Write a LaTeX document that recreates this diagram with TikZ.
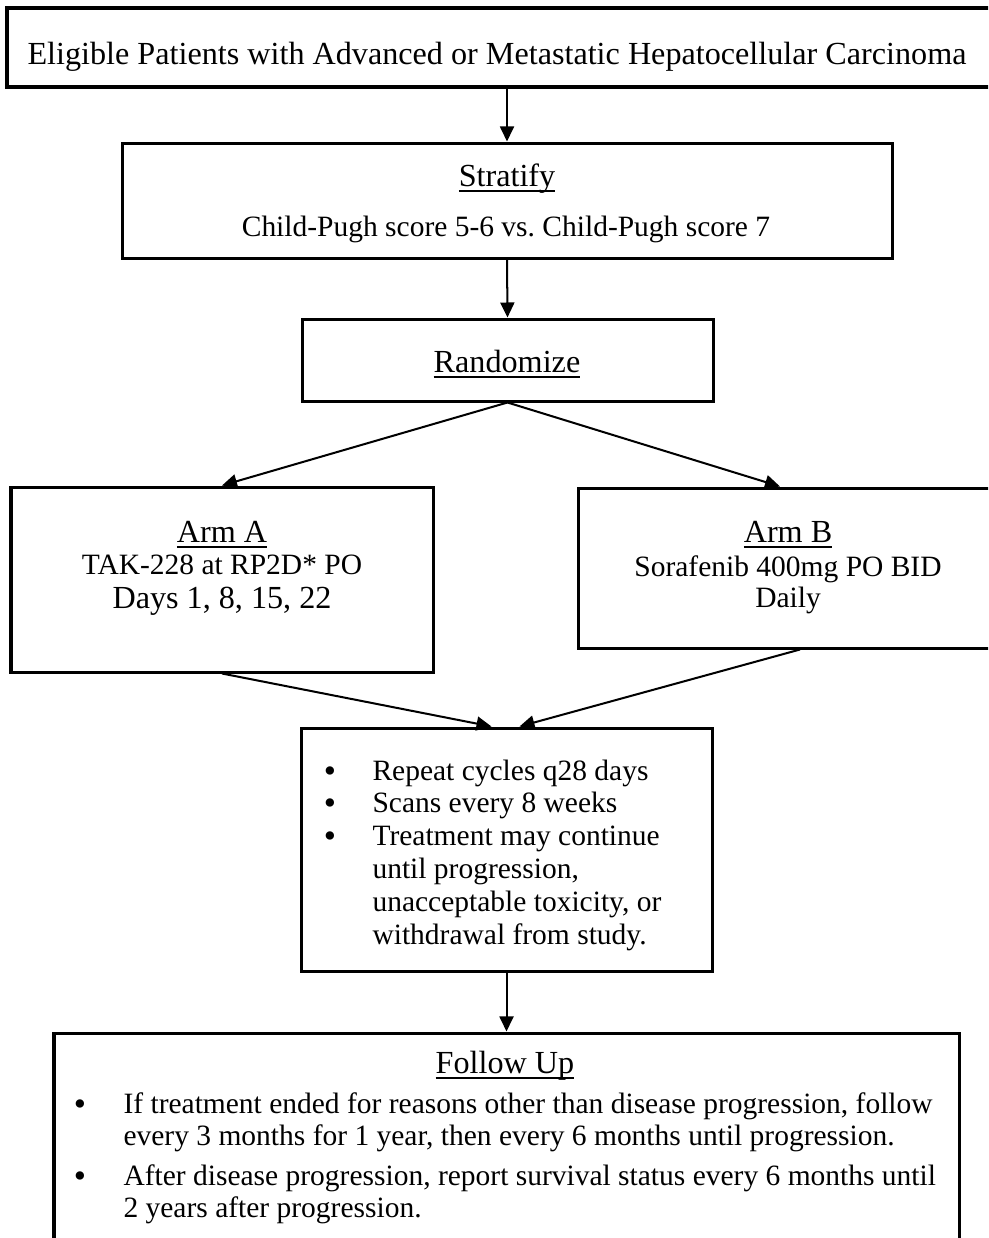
\documentclass[tikz,border=0pt]{standalone}
\usepackage{fontspec}
\setmainfont{Liberation Serif}
\usetikzlibrary{arrows.meta,calc}
\newcommand{\myul}[1]{\setbox0\hbox{#1}\rlap{\rule[-2.2pt]{\wd0}{0.7pt}}\box0}
\begin{document}
\begin{tikzpicture}[x=0.373pt,y=-0.373pt,
  box/.style={draw=black,line width=1.12pt,inner sep=0pt,rectangle},
  big/.style={font=\fontsize{12}{14}\selectfont},
  small/.style={font=\fontsize{11}{13}\selectfont},
  txt/.style={inner sep=0pt,anchor=base},
  ltxt/.style={inner sep=0pt,anchor=base west},
  dot/.style={inner sep=0pt,anchor=base,font=\fontsize{13}{13}\selectfont},
  arr/.style={line width=0.75pt,-{Triangle[length=5.6pt,width=5.2pt]}}]
\clip (0,0) rectangle (988,1238);
\fill[white] (0,0) rectangle (988,1238);
% boxes
\node[box,minimum width=985*0.373pt,minimum height=79*0.373pt] (top) at (499.5,47.5) {};
\node[box,minimum width=770*0.373pt,minimum height=115*0.373pt] (strat) at (507,200.5) {};
\node[box,minimum width=411*0.373pt,minimum height=82*0.373pt] (rand) at (507.5,360) {};
\node[box,minimum width=422*0.373pt,minimum height=185*0.373pt] (armA) at (222,579.5) {};
\node[box,minimum width=416*0.373pt,minimum height=160*0.373pt] (armB) at (786,568) {};
\node[box,minimum width=411*0.373pt,minimum height=243*0.373pt] (bul) at (506.5,849.5) {};
\node[box,minimum width=905*0.373pt,minimum height=227*0.373pt] (fol) at (506.5,1146.5) {};
% texts
\node[txt,big] (t0) at (497,64) {Eligible Patients with Advanced or Metastatic Hepatocellular Carcinoma};
\node[txt,big] (s1) at (507,186) {\myul{Stratify}};
\node[txt,small] (s2) at (506,236) {Child-Pugh score 5-6 vs.\ Child-Pugh score 7};
\node[txt,big] (r1) at (507,372) {\myul{Randomize}};
\node[txt,big] (a1) at (222,542) {\myul{Arm A}};
\node[txt,small] (a2) at (222,574) {TAK-228 at RP2D* PO};
\node[txt,big] (a3) at (222,608) {Days 1, 8, 15, 22};
\node[txt,big] (b1) at (788,542) {\myul{Arm B}};
\node[txt,small] (b2) at (788,576) {Sorafenib 400mg PO BID};
\node[txt,small] (b3) at (788,607) {Daily};
% bullet box
\node[dot] (d1) at (330,782) {\textbullet};
\node[dot] (d2) at (330,814) {\textbullet};
\node[dot] (d3) at (330,847) {\textbullet};
\node[ltxt,small] (p1) at (372,780) {Repeat cycles q28 days};
\node[ltxt,small] (p2) at (372,812) {Scans every 8 weeks};
\node[ltxt,small] (p3) at (372,845) {Treatment may continue};
\node[ltxt,small] (p4) at (372,878) {until progression,};
\node[ltxt,small] (p5) at (372,911) {unacceptable toxicity, or};
\node[ltxt,small] (p6) at (372,944) {withdrawal from study.};
% follow up
\node[txt,big] (f0) at (505,1073) {\myul{Follow Up}};
\node[dot] (e1) at (80,1115) {\textbullet};
\node[dot] (e2) at (80,1187) {\textbullet};
\node[ltxt,small] (f1) at (123,1113) {If treatment ended for reasons other than disease progression, follow};
\node[ltxt,small] (f2) at (123,1145) {every 3 months for 1 year, then every 6 months until progression.};
\node[ltxt,small] (f3) at (123,1185) {After disease progression, report survival status every 6 months until};
\node[ltxt,small] (f4) at (123,1217) {2 years after progression.};
% arrows
\draw[arr] (strat.north |- top.south) -- (strat.north);
\draw[arr] (strat.south) -- (rand.north);
\draw[arr] (rand.south) -- (armA.north);
\draw[arr] (rand.south) -- ($(armB.north)+(-6,0)$);
\draw[arr] (armA.south) -- ($(bul.north)+(-15,0)$);
\draw[arr] ($(armB.south)+(14,0)$) -- ($(bul.north)+(13,0)$);
\draw[arr] (bul.south) -- (bul.south |- fol.north);
\end{tikzpicture}
\end{document}
